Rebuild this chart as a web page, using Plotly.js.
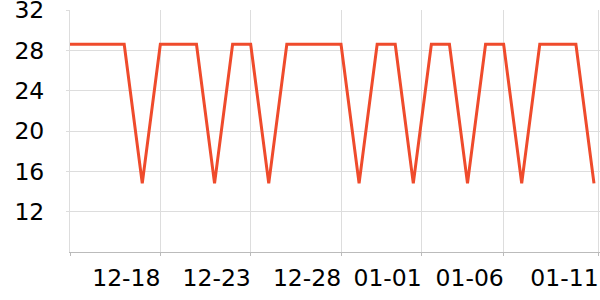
<!DOCTYPE html>
<html>
<head>
<meta charset="utf-8">
<script src="https://cdn.plot.ly/plotly-3.0.1.min.js"></script>
<style>html,body{margin:0;padding:0;background:#fff;}#chart{width:600px;height:300px;}</style>
</head>
<body>
<div id="chart"></div>
<script>
const dates = [
  "2024-12-13","2024-12-14","2024-12-15","2024-12-16","2024-12-17","2024-12-18",
  "2024-12-19","2024-12-20","2024-12-21","2024-12-22","2024-12-23","2024-12-24",
  "2024-12-25","2024-12-26","2024-12-27","2024-12-28","2024-12-29","2024-12-30",
  "2024-12-31","2025-01-01","2025-01-02","2025-01-03","2025-01-04","2025-01-05",
  "2025-01-06","2025-01-07","2025-01-08","2025-01-09","2025-01-10","2025-01-11"
];
const values = [
  28.6,28.6,28.6,28.6,14.8,28.6,
  28.6,28.6,14.8,28.6,28.6,14.8,
  28.6,28.6,28.6,28.6,14.8,28.6,
  28.6,14.8,28.6,28.6,14.8,28.6,
  28.6,14.8,28.6,28.6,28.6,14.8
];
const xTickVals = ["2024-12-13","2024-12-18","2024-12-23","2024-12-28","2025-01-01 11:00","2025-01-06","2025-01-11 06:00"];
const xTickText = ["","12-18","12-23","12-28","01-01","01-06","01-11"];
const yTickVals = [12,16,20,24,28,32];

const trace = {
  x: dates, y: values, type: "scatter", mode: "lines",
  line: {color: "#EF4B2C", width: 3},
  hoverinfo: "skip"
};
const layout = {
  width: 600, height: 300,
  margin: {l: 70, r: 0, t: 10, b: 48},
  paper_bgcolor: "#fff", plot_bgcolor: "#fff",
  showlegend: false,
  font: {family: "DejaVu Sans", size: 23.5, color: "#000"},
  xaxis: {
    type: "date",
    range: ["2024-12-13", "2025-01-11 08:00"],
    tickmode: "array", tickvals: xTickVals, ticktext: xTickText,
    showgrid: true, gridcolor: "#dddddd", gridwidth: 1,
    showline: true, linecolor: "#bbbbbb", linewidth: 1,
    ticks: "outside", ticklen: 3, tickcolor: "#bbbbbb",
    ticklabelshift: -34, ticklabelstandoff: 2,
    ticklabeloverflow: "allow",
    zeroline: false, fixedrange: true
  },
  yaxis: {
    range: [8, 32],
    tickmode: "array", tickvals: yTickVals,
    showgrid: true, gridcolor: "#dddddd", gridwidth: 1,
    showline: true, linecolor: "#dddddd", linewidth: 1,
    ticks: "outside", ticklen: 3, tickcolor: "#dddddd",
    ticklabelstandoff: 17,
    ticklabeloverflow: "allow",
    zeroline: false, fixedrange: true
  }
};
Plotly.newPlot("chart", [trace], layout, {staticPlot: true, displayModeBar: false});
</script>
</body>
</html>
